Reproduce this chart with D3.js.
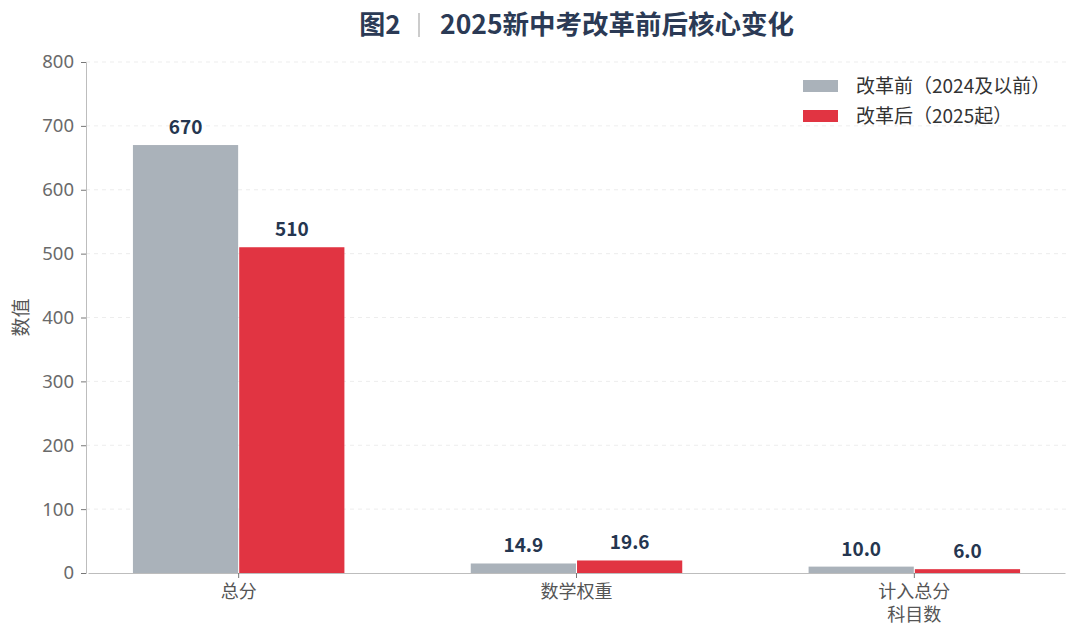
<!DOCTYPE html>
<html>
<head>
<meta charset="utf-8">
<script src="https://cdn.jsdelivr.net/npm/d3@7"></script>
<style>
  body { margin: 0; background: #fff; }
  text { font-family: "Noto Sans CJK SC", "Noto Sans", sans-serif; }
</style>
</head>
<body>
<svg id="chart" width="1080" height="643"></svg>
<script>
// data
const categories = ["总分", "数学权重", "计入总分\n科目数"];
const seriesNames = ["改革前（2024及以前）", "改革后（2025起）"];
const beforeValues = [670, 14.9, 10.0];
const afterValues = [510, 19.6, 6.0];
const valueLabels = [["670", "14.9", "10.0"], ["510", "19.6", "6.0"]];
const yTicks = [0, 100, 200, 300, 400, 500, 600, 700, 800];

const colors = ["#aab2ba", "#e13442"];
const width = 1080, height = 643;
const margin = { top: 62, right: 14, bottom: 70, left: 86 };

const svg = d3.select("#chart");

// x scales: groups, then series inside each group
const x0 = d3.scaleBand()
  .domain(categories)
  .range([margin.left + 2, width - margin.right - 1])
  .paddingInner(0.374)
  .paddingOuter(0.133);

const x1 = d3.scaleBand()
  .domain([0, 1])
  .range([0, x0.bandwidth()])
  .paddingInner(0.01);

const y = d3.scaleLinear()
  .domain([0, 800])
  .range([height - margin.bottom, margin.top]);

// grid lines
svg.append("g")
  .selectAll("line")
  .data(yTicks.slice(1))
  .join("line")
  .attr("x1", margin.left)
  .attr("x2", width - margin.right)
  .attr("y1", d => y(d))
  .attr("y2", d => y(d))
  .attr("stroke", "#e8e8e8")
  .attr("stroke-dasharray", "4,4")
  .attr("stroke-width", 0.8);

// bars
const rows = categories.map((c, i) => ({ cat: c, vals: [beforeValues[i], afterValues[i]], labels: [valueLabels[0][i], valueLabels[1][i]] }));

const groups = svg.append("g")
  .selectAll("g")
  .data(rows)
  .join("g")
  .attr("transform", d => `translate(${x0(d.cat)},0)`);

groups.selectAll("rect")
  .data(d => d.vals.map((v, k) => ({ v, k })))
  .join("rect")
  .attr("x", d => x1(d.k))
  .attr("y", d => y(d.v))
  .attr("width", x1.bandwidth())
  .attr("height", d => y(0) - y(d.v))
  .attr("fill", d => colors[d.k]);

groups.selectAll("text")
  .data(d => d.vals.map((v, k) => ({ v, k, label: d.labels[k] })))
  .join("text")
  .attr("x", d => x1(d.k) + x1.bandwidth() / 2)
  .attr("y", d => y(d.v) - 11)
  .attr("text-anchor", "middle")
  .attr("font-size", 19)
  .attr("font-weight", "bold")
  .attr("fill", "#253650")
  .text(d => d.label);

// y axis
const yAxis = svg.append("g")
  .attr("transform", `translate(${margin.left},0)`)
  .call(d3.axisLeft(y).tickValues(yTicks).tickSize(5).tickPadding(7));
yAxis.select(".domain").attr("stroke", "#bdbdbd");
yAxis.selectAll(".tick line").attr("stroke", "#777");
yAxis.selectAll(".tick text")
  .attr("font-size", 18.5)
  .attr("fill", "#6a6a6a")
  .style("font-family", "'Noto Sans', sans-serif");

// x axis
const xAxis = svg.append("g")
  .attr("transform", `translate(0,${y(0)})`)
  .call(d3.axisBottom(x0).tickSize(5).tickSizeOuter(0).tickPadding(7));
xAxis.select(".domain").attr("stroke", "#bdbdbd");
xAxis.selectAll(".tick line").attr("stroke", "#777");
xAxis.selectAll(".tick text").each(function (d) {
  const t = d3.select(this);
  const lines = d.split("\n");
  t.text(null).attr("font-size", 18).attr("fill", "#555");
  lines.forEach((ln, i) => {
    t.append("tspan").attr("x", 0).attr("dy", i === 0 ? "0.71em" : "1.3em").text(ln);
  });
});

// y label
svg.append("text")
  .attr("transform", `translate(28,${(margin.top + y(0)) / 2}) rotate(-90)`)
  .attr("text-anchor", "middle")
  .attr("font-size", 19)
  .attr("fill", "#555")
  .text("数值");

// title
const title = svg.append("g").attr("transform", "translate(0,34)");
title.append("text")
  .attr("x", 380)
  .attr("text-anchor", "middle")
  .attr("font-size", 26)
  .attr("font-weight", "bold")
  .attr("fill", "#2b3a55")
  .text("图2");
title.append("line")
  .attr("x1", 419).attr("x2", 419)
  .attr("y1", -21).attr("y2", 3)
  .attr("stroke", "#999")
  .attr("stroke-width", 1);
title.append("text")
  .attr("x", 440)
  .attr("font-size", 26.5)
  .attr("font-weight", "bold")
  .attr("fill", "#2b3a55")
  .text("2025新中考改革前后核心变化");

// legend
const legend = svg.append("g").attr("transform", "translate(803,80)");
seriesNames.forEach((name, i) => {
  const row = legend.append("g").attr("transform", `translate(0,${i * 30})`);
  row.append("rect").attr("width", 35).attr("height", 12).attr("fill", colors[i]);
  row.append("text")
    .attr("x", 53)
    .attr("y", 6)
    .attr("dy", "0.35em")
    .attr("font-size", 19)
    .attr("fill", "#333")
    .text(name);
});
</script>
</body>
</html>
